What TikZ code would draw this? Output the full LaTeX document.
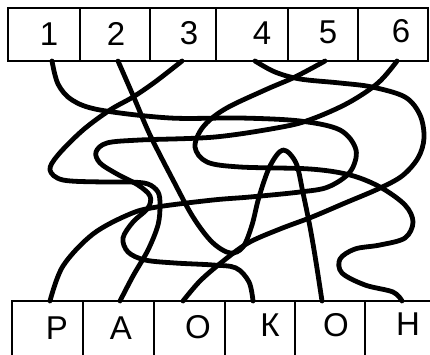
\documentclass[tikz,border=0pt]{standalone}
\usepackage{fontspec}
\setmainfont{Liberation Sans}
\begin{document}
\begin{tikzpicture}[x=1pt,y=-1pt,
  wire/.style={line width=4.8pt, line cap=round, line join=round},
  cell/.style={draw, line width=2.4pt, inner sep=0pt, outer sep=0pt},
  topcell/.style={cell, minimum height=53pt},
  botcell/.style={cell, minimum height=66pt},
  lab/.style={inner sep=0pt, font=\fontsize{33}{33}\selectfont}]
\useasboundingbox (0,0) rectangle (430,355);
\clip (0,0) rectangle (430,355);
\fill[white] (0,0) rectangle (430,355);
% top row
\node[topcell, minimum width=72pt] (c1) at (44,34.5) {};
\node[topcell, minimum width=70pt] (c2) at (115,34.5) {};
\node[topcell, minimum width=66pt] (c3) at (183,34.5) {};
\node[topcell, minimum width=72pt] (c4) at (252,34.5) {};
\node[topcell, minimum width=70pt] (c5) at (323,34.5) {};
\node[topcell, minimum width=70pt] (c6) at (393,34.5) {};
\node[lab] (n1) at (49,34) {1};
\node[lab] (n2) at (116,34) {2};
\node[lab] (n3) at (189,33) {3};
\node[lab] (n4) at (262,33) {4};
\node[lab] (n5) at (328,32) {5};
\node[lab] (n6) at (401,31) {6};
% bottom row
\node[botcell, minimum width=71pt] (d1) at (47.5,334) {};
\node[botcell, minimum width=71pt] (d2) at (118.5,334) {};
\node[botcell, minimum width=71pt] (d3) at (189.5,334) {};
\node[botcell, minimum width=70pt] (d4) at (260,334) {};
\node[botcell, minimum width=70pt] (d5) at (330,334) {};
\node[botcell, minimum width=75pt] (d6) at (402.5,334) {};
\node[lab] (m1) at (57,328) {Р};
\node[lab] (m2) at (121,328) {А};
\node[lab] (m3) at (198,327) {О};
\node[lab] (m4) at (270,325) {К};
\node[lab] (m5) at (336,325) {О};
\node[lab] (m6) at (408,324) {Н};
% connector ends
\coordinate (t1) at (52,61);
\coordinate (t2) at (118,61);
\coordinate (t3) at (182,61);
\coordinate (t4) at (255,61);
\coordinate (t5) at (325,61);
\coordinate (t6) at (397,61);
\coordinate (b1) at (50,301);
\coordinate (b2) at (120,301);
\coordinate (b3) at (183,301);
\coordinate (b4) at (253,301);
\coordinate (b5) at (322,301);
\coordinate (b6) at (402,301);
% 1 -> P
\draw[wire] plot[smooth, tension=0.55] coordinates {(t1) (58,84) (72,100) (100,110) (170,118) (240,118) (300,121) (340,130) (356,150) (350,172) (328,187) (300,192) (250,197) (213,200) (157,207) (130,214) (93,234) (63,266) (b1)};
% 2 -> O (5)
\draw[wire] plot[smooth, tension=0.55] coordinates {(t2) (135,100) (150,135) (173,180) (193,217) (212,242) (230,253) (243,247) (252,225) (259,197) (270,166) (283,150) (296,163) (303,193) (310,227) (316,262) (b5)};
% 3 -> A
\draw[wire] plot[smooth, tension=0.55] coordinates {(t3) (155,82) (133,97) (110,110) (83,130) (58,155) (50,170) (63,180) (103,182) (130,182) (148,184) (158,192) (160,205) (158,225) (148,250) (133,276) (b2)};
% 4 -> O (3)
\draw[wire] plot[smooth, tension=0.55] coordinates {(t4) (275,72) (300,79) (340,83) (372,87) (405,97) (420,115) (424,138) (418,158) (402,176) (378,189) (345,203) (312,217) (280,229) (248,243) (222,262) (200,281) (b3)};
% 5 -> H
\draw[wire] plot[smooth, tension=0.55] coordinates {(t5) (295,77) (265,90) (225,109) (203,127) (195,147) (207,162) (240,167) (310,169) (350,175) (380,187) (405,205) (413,222) (405,238) (380,245) (355,249) (340,259) (342,273) (365,285) (393,292) (b6)};
% 6 -> K
\draw[wire] plot[smooth, tension=0.55] coordinates {(t6) (378,83) (348,103) (312,119) (282,127) (215,137) (140,140) (107,143) (96,152) (100,163) (117,174) (138,185) (150,196) (148,208) (133,222) (123,238) (128,252) (145,260) (175,263) (213,265) (236,268) (249,282) (b4)};
\end{tikzpicture}
\end{document}
